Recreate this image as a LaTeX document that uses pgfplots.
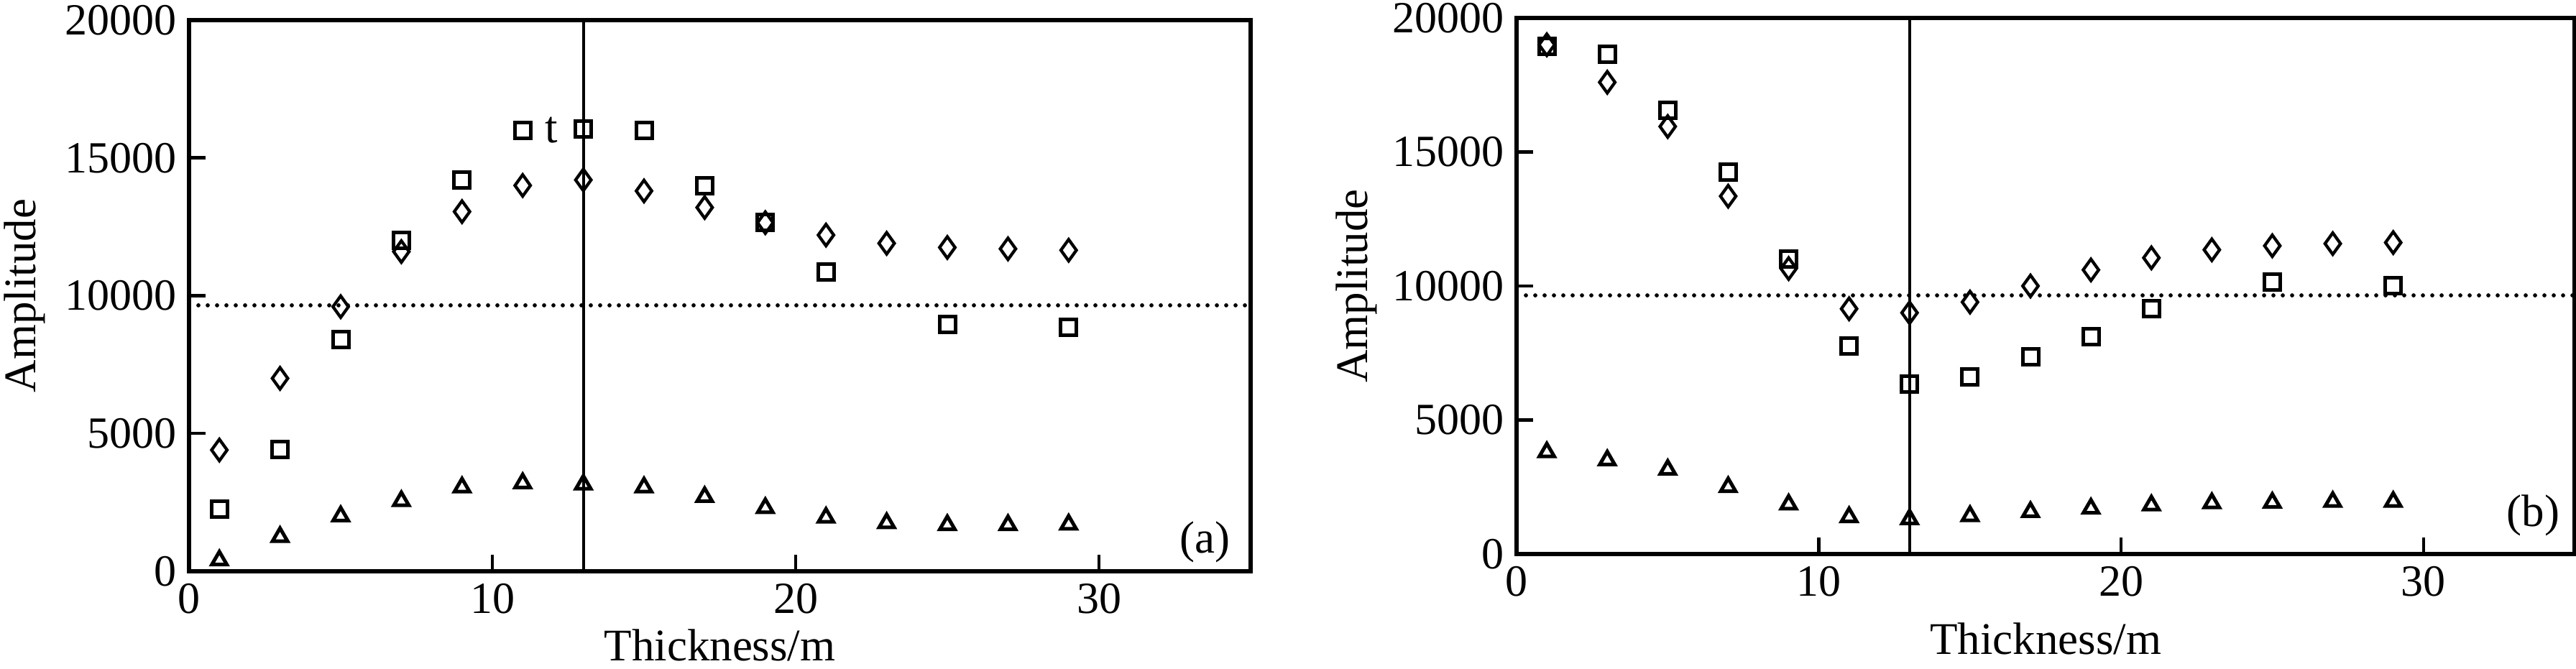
\documentclass[border=0pt]{standalone}
\usepackage{fontspec}
\setmainfont{Liberation Serif}
\usepackage{pgfplots}
\pgfplotsset{compat=1.18}
\pgfplotsset{
  panel/.style={
    scale only axis,
    xmin=0, xmax=35, ymin=0, ymax=20000,
    xtick={0,10,20,30}, ytick={0,5000,10000,15000,20000},
    xtick pos=bottom, ytick pos=left, tick align=inside,
    major tick length=4.6pt,
    every tick/.style={black, line width=0.9pt},
    axis line style={line width=1.2pt},
    /pgf/number format/assume math mode=true,
    scaled y ticks=false,
    yticklabel style={/pgf/number format/1000 sep={}},
    tick label style={font=\fontsize{12.4}{14}\selectfont},
    label style={font=\fontsize{12.6}{14}\selectfont},
    xlabel={Thickness/m}, ylabel={Amplitude},
    clip=false,
  },
  dia/.style={only marks, mark=diamond, mark size=2.3pt, mark options={line width=0.85pt, black, solid, xscale=1.25, yscale=1.3}},
  sq/.style={only marks, mark=square, mark size=2.2pt, mark options={line width=1pt, black, solid}},
  tri/.style={only marks, mark=triangle, mark size=2.4pt, mark options={line width=1pt, black, solid}},
}
\begin{document}
\begin{tikzpicture}
\path[use as bounding box] (0,0) rectangle (716.8pt,186.2pt);
% ---------- panel (a) ----------
\begin{axis}[panel, at={(52.6pt,27.2pt)}, anchor=south west,
  width=295.4pt, height=153.4pt,
  xlabel style={at={(axis description cs:0.5,0)}, anchor=base, yshift=-25pt},
  ylabel style={at={(axis description cs:-0.155,0.5)}, anchor=center, rotate=0}]
\addplot[sq] coordinates {(1,2250)(3,4430)(5,8400)(7,12000)(9,14200)(11,16000)(13,16050)(15,16000)(17,14000)(19,12650)(21,10850)(25,8950)(29,8850)};
\addplot[dia] coordinates {(1,4400)(3,7000)(5,9600)(7,11600)(9,13050)(11,14000)(13,14200)(15,13800)(17,13200)(19,12650)(21,12200)(23,11900)(25,11750)(27,11700)(29,11650)};
\addplot[tri] coordinates {(1,400)(3,1250)(5,2000)(7,2550)(9,3050)(11,3200)(13,3150)(15,3050)(17,2700)(19,2300)(21,1950)(23,1750)(25,1680)(27,1680)(29,1700)};
\addplot[black, line width=0.8pt] coordinates {(13,0)(13,20000)};
\addplot[black, line width=1.15pt, line cap=round, dash pattern=on 0pt off 2.6pt] coordinates {(0,9650)(35,9650)};
\node[font=\fontsize{12.6}{14}\selectfont, inner sep=0pt] at (axis cs:11.95,16000) {t};
\node[font=\fontsize{12.6}{14}\selectfont, inner sep=0pt, anchor=base east] at ([xshift=-5.6pt,yshift=5pt]rel axis cs:1,0) {(a)};
\end{axis}
% ---------- panel (b) ----------
\begin{axis}[panel, at={(422pt,32pt)}, anchor=south west,
  width=294.4pt, height=149.2pt,
  xlabel style={at={(axis description cs:0.5,0)}, anchor=base, yshift=-28pt},
  ylabel style={at={(axis description cs:-0.151,0.5)}, anchor=center, rotate=0}]
\addplot[sq] coordinates {(1,18950)(3,18650)(5,16550)(7,14250)(9,11000)(11,7750)(13,6350)(15,6600)(17,7350)(19,8100)(21,9150)(25,10150)(29,10000)};
\addplot[dia] coordinates {(1,19000)(3,17600)(5,15950)(7,13350)(9,10650)(11,9150)(13,9000)(15,9400)(17,10000)(19,10600)(21,11050)(23,11350)(25,11500)(27,11580)(29,11620)};
\addplot[tri] coordinates {(1,3800)(3,3500)(5,3150)(7,2500)(9,1850)(11,1380)(13,1300)(15,1420)(17,1570)(19,1700)(21,1820)(23,1900)(25,1920)(27,1950)(29,1950)};
\addplot[black, line width=0.8pt] coordinates {(13,0)(13,20000)};
\addplot[black, line width=1.15pt, line cap=round, dash pattern=on 0pt off 2.6pt] coordinates {(0,9650)(35,9650)};
\node[font=\fontsize{12.6}{14}\selectfont, inner sep=0pt, anchor=base east] at ([xshift=-4pt,yshift=7.6pt]rel axis cs:1,0) {(b)};
\end{axis}
\end{tikzpicture}
\end{document}
